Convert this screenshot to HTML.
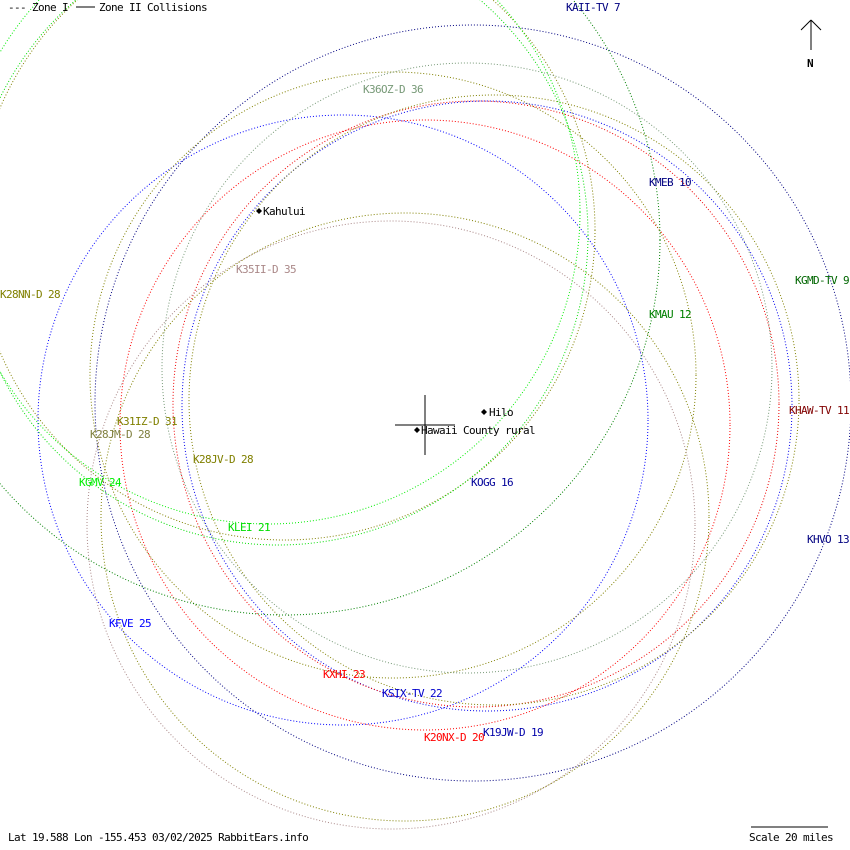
<!DOCTYPE html>
<html><head><meta charset="utf-8"><style>
body{margin:0;background:#fff}
svg{display:block}
text{font-family:"DejaVu Sans Mono","Liberation Mono",monospace;font-size:11px;letter-spacing:-0.62px}
circle{fill:none;stroke-width:1;stroke-dasharray:1 2}
</style></head><body>
<svg width="850" height="850" viewBox="0 0 850 850" xmlns="http://www.w3.org/2000/svg">
<rect width="850" height="850" fill="#fff"/>
<!-- navy big KHVO -->
<circle cx="473" cy="403" r="378" stroke="#000080"/>
<!-- blue KFVE -->
<circle cx="343" cy="420" r="305" stroke="#0000ff"/>
<!-- blue -->
<circle cx="487" cy="406" r="305" stroke="#0000ee"/>
<!-- reds -->
<circle cx="425" cy="425" r="305" stroke="#ff0000"/>
<circle cx="476" cy="404" r="303" stroke="#ee0000"/>
<!-- olive -->
<circle cx="393" cy="375" r="303" stroke="#808000"/>
<circle cx="494" cy="400" r="305" stroke="#808000"/>
<circle cx="405" cy="517" r="304" stroke="#808000"/>
<circle cx="285" cy="230" r="310" stroke="#808000"/>
<!-- gray-green -->
<circle cx="467" cy="368" r="305" stroke="#779977"/>
<!-- mauve -->
<circle cx="391" cy="525" r="304" stroke="#aa8888"/>
<!-- greens -->
<circle cx="285" cy="240" r="375" stroke="#008000"/>
<circle cx="268" cy="212" r="312" stroke="#00ee00"/>
<circle cx="278" cy="235" r="310" stroke="#00dd00"/>
<!-- crosshair -->
<line x1="395" y1="425" x2="455" y2="425" stroke="#000"/>
<line x1="425" y1="395" x2="425" y2="455" stroke="#000"/>
<!-- N arrow -->
<line x1="811" y1="20" x2="811" y2="50" stroke="#000"/>
<line x1="811" y1="20" x2="801" y2="30" stroke="#000"/>
<line x1="811" y1="20" x2="821" y2="30" stroke="#000"/>
<text x="807" y="67" style="font-weight:bold">N</text>
<!-- scale -->
<line x1="751" y1="827" x2="828" y2="827" stroke="#000"/>
<text x="749" y="841">Scale 20 miles</text>
<text x="8" y="841">Lat 19.588 Lon -155.453 03/02/2025 RabbitEars.info</text>
<text x="8" y="11">--- Zone I</text>
<line x1="76" y1="7" x2="95" y2="7" stroke="#000"/>
<text x="99" y="11">Zone II Collisions</text>
<!-- cities -->
<path d="M259 208l3 3-3 3-3-3z" fill="#000"/><text x="263" y="215">Kahului</text>
<path d="M484 409l3 3-3 3-3-3z" fill="#000"/><text x="489" y="416">Hilo</text>
<path d="M417 427l3 3-3 3-3-3z" fill="#000"/><text x="421" y="434">Hawaii County rural</text>
<!-- labels -->
<text x="566" y="11" fill="#000080">KAII-TV 7</text>
<text x="363" y="93" fill="#779977">K36OZ-D 36</text>
<text x="649" y="186" fill="#000080">KMEB 10</text>
<text x="236" y="273" fill="#aa8888">K35II-D 35</text>
<text x="795" y="284" fill="#006600">KGMD-TV 9</text>
<text x="0" y="298" fill="#808000">K28NN-D 28</text>
<text x="649" y="318" fill="#008000">KMAU 12</text>
<text x="789" y="414" fill="#800000">KHAW-TV 11</text>
<text x="117" y="425" fill="#808000">K31IZ-D 31</text>
<text x="90" y="438" fill="#808040">K28JM-D 28</text>
<text x="193" y="463" fill="#808000">K28JV-D 28</text>
<text x="79" y="486" fill="#00ee00">KGMV 24</text>
<text x="471" y="486" fill="#000099">KOGG 16</text>
<text x="228" y="531" fill="#00dd00">KLEI 21</text>
<text x="807" y="543" fill="#000080">KHVO 13</text>
<text x="109" y="627" fill="#0000ff">KFVE 25</text>
<text x="323" y="678" fill="#ff0000">KXHI 23</text>
<text x="382" y="697" fill="#0000cc">KSIX-TV 22</text>
<text x="483" y="736" fill="#0000aa">K19JW-D 19</text>
<text x="424" y="741" fill="#ff0000">K20NX-D 20</text>
</svg>
</body></html>
